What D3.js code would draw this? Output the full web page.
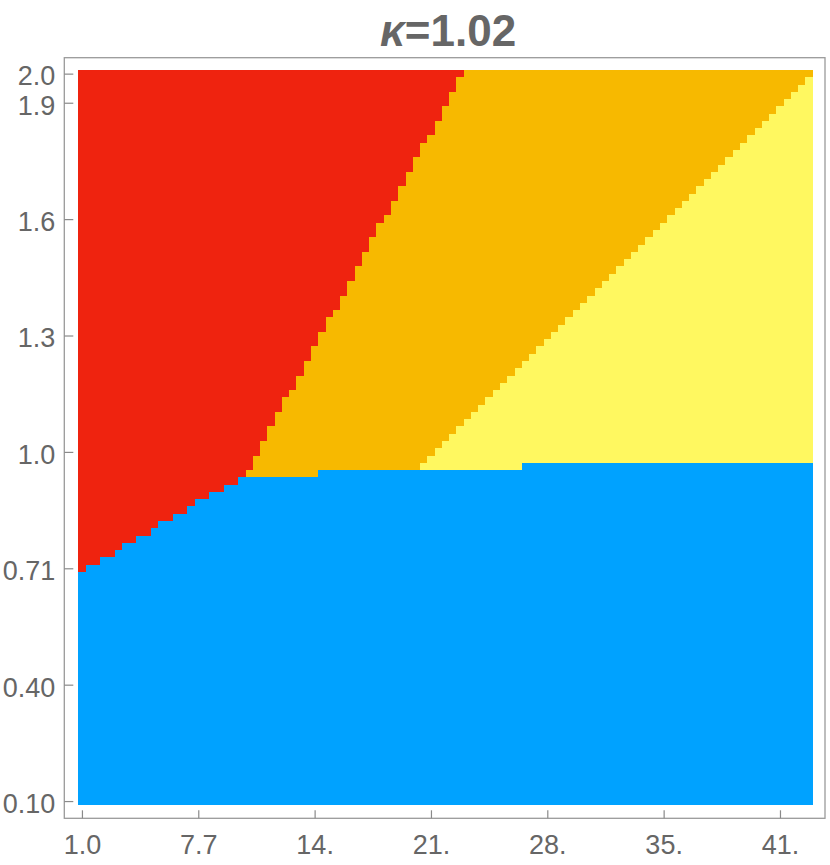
<!DOCTYPE html>
<html>
<head>
<meta charset="utf-8">
<script src="https://cdn.jsdelivr.net/npm/d3@7"></script>
<style>
  body { margin: 0; background: #fff; }
  text { font-family: "Liberation Sans", Arial, sans-serif; fill: #666; }
</style>
</head>
<body>
<svg id="chart" width="830" height="865"></svg>
<script>
// sampling grid of the region plot (cell centres)
const xFirst = 1, xLast = 43, yFirst = 0.1, yLast = 2.0, nCells = 101;

// top of the blue region, a step for each x start
const blueX = [1.0, 1.2, 2.0, 2.9, 3.3, 4.1, 5.0, 5.4, 6.2, 7.1, 7.5, 8.3, 9.2, 10.0, 14.6, 26.4];
const blueTop = [0.70, 0.72, 0.74, 0.76, 0.77, 0.79, 0.81, 0.83, 0.85, 0.87, 0.89, 0.91, 0.93, 0.94, 0.96, 0.98];

// red | orange edge, orange | yellow edge (x at two heights)
const redEdgeX = [10.4, 23.0], redEdgeY = [0.95, 2.0];
const yellowEdgeX = [20.5, 43.2], yellowEdgeY = [0.97, 2.0];

const colors = { red: '#ef230f', orange: '#f7b900', yellow: '#fff860', blue: '#00a2ff' };

const xTicks = [1, 7.72, 14.44, 21.16, 27.88, 34.6, 41.32];
const xTickLabels = ['1.0', '7.7', '14.', '21.', '28.', '35.', '41.'];
const yTicks = [0.1, 0.404, 0.708, 1.012, 1.316, 1.62, 1.924, 2.0];
const yTickLabels = ['0.10', '0.40', '0.71', '1.0', '1.3', '1.6', '1.9', '2.0'];

const svg = d3.select('#chart');

const dx = (xLast - xFirst) / (nCells - 1),
  dy = (yLast - yFirst) / (nCells - 1),
  xs = d3.range(nCells).map(i => xFirst + i * dx),
  ys = d3.range(nCells).map(j => yFirst + j * dy);

const x = d3.scaleLinear().domain([xFirst - dx / 2, xLast + dx / 2]).range([78.3, 812.7]),
  y = d3.scaleLinear().domain([yFirst - dy / 2, yLast + dy / 2]).range([804.7, 70]);

const redEdge = d3.scaleLinear().domain(redEdgeY).range(redEdgeX),
  yellowEdge = d3.scaleLinear().domain(yellowEdgeY).range(yellowEdgeX),
  blueAt = xv => blueTop[d3.bisectRight(blueX, xv) - 1];

const region = (xv, yv) => {
  if (yv < blueAt(xv)) return 'blue';
  if (xv < redEdge(yv)) return 'red';
  if (xv < yellowEdge(yv)) return 'orange';
  return 'yellow';
};

// merge each row into runs of one colour
let runs = [];
ys.forEach(yv => {
  let start = 0;
  for (let i = 1; i <= nCells; i++) {
    if (i === nCells || region(xs[i], yv) !== region(xs[start], yv)) {
      runs.push({ y: yv, x0: xs[start], x1: xs[i - 1], c: region(xs[start], yv) });
      start = i;
    }
  }
});

svg
  .append('g')
  .selectAll('rect')
  .data(runs)
  .enter()
  .append('rect')
  .attr('x', d => x(d.x0 - dx / 2))
  .attr('width', d => x(d.x1 + dx / 2) - x(d.x0 - dx / 2))
  .attr('y', d => y(d.y + dy / 2))
  .attr('height', d => y(d.y - dy / 2) - y(d.y + dy / 2))
  .attr('fill', d => colors[d.c])
  .attr('shape-rendering', 'crispEdges');

// frame
svg
  .append('rect')
  .attr('x', 64.3)
  .attr('y', 57.7)
  .attr('width', 825 - 64.3)
  .attr('height', 818.3 - 57.7)
  .attr('fill', 'none')
  .attr('stroke', '#9a9a9a')
  .attr('stroke-width', 1.3);

const yAxis = d3.axisLeft(y).tickValues(yTicks).tickFormat((d, i) => yTickLabels[i]).tickSize(-9).tickPadding(9),
  xAxis = d3.axisBottom(x).tickValues(xTicks).tickFormat((d, i) => xTickLabels[i]).tickSize(-8).tickPadding(17);

const gy = svg.append('g').attr('transform', 'translate(64.3,0)').call(yAxis);
const gx = svg.append('g').attr('transform', 'translate(0,818.3)').call(xAxis);

[gy, gx].forEach(g => {
  g.select('.domain').remove();
  g.selectAll('.tick line').attr('stroke', '#8a8a8a').attr('stroke-width', 1.2);
  g.selectAll('.tick text').style('font-size', '27px').style('fill', '#666');
});
gy.selectAll('.tick text').attr('dy', '0.42em');

// title
const title = svg
  .append('text')
  .attr('x', 448)
  .attr('y', 46)
  .attr('text-anchor', 'middle')
  .style('font-size', '44px')
  .style('font-weight', 'bold');
title.append('tspan').style('font-style', 'italic').text('κ');
title.append('tspan').text('=1.02');
</script>
</body>
</html>
